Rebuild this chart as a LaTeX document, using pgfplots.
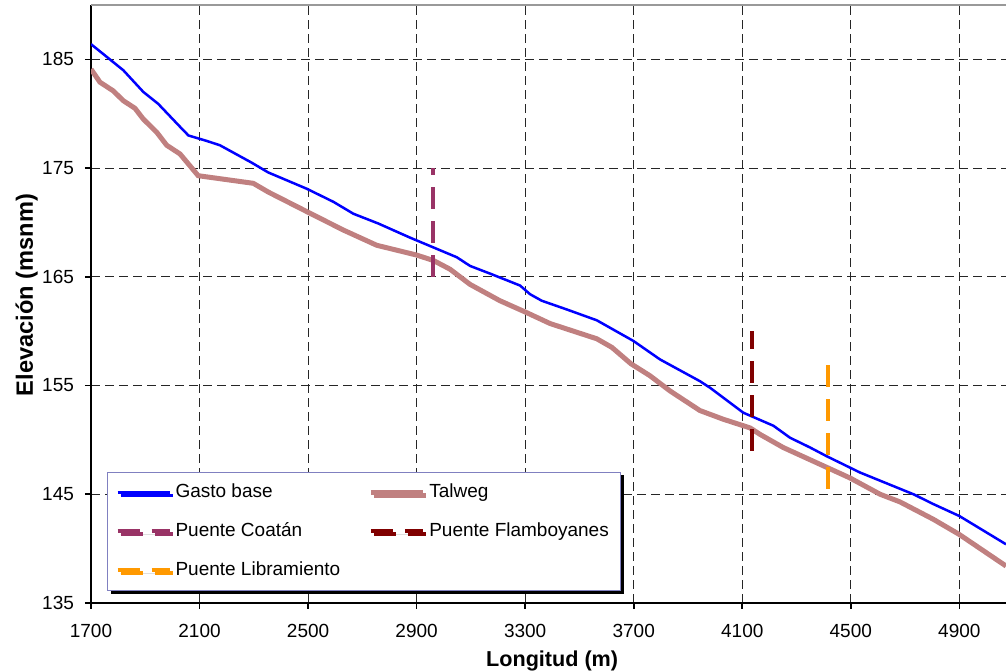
\documentclass[border=0pt]{standalone}
\usepackage{fontspec}
\setmainfont{Liberation Sans}
\usepackage{pgfplots}
\pgfplotsset{compat=1.18}
\usetikzlibrary{shadows}

\definecolor{gasto}{RGB}{0,0,255}
\definecolor{talweg}{RGB}{192,128,128}
\definecolor{coatan}{RGB}{153,51,102}
\definecolor{flamb}{RGB}{128,0,0}
\definecolor{libra}{RGB}{255,153,0}
\definecolor{legborder}{RGB}{128,128,192}

\begin{document}
\begin{tikzpicture}
\begin{axis}[
    name=ax,
    scale only axis,
    width=457.5pt, height=299pt,
    xmin=1700, xmax=5072,
    ymin=135, ymax=190,
    xtick={1700,2100,...,4900},
    ytick={135,145,...,185},
    axis x line*=bottom, axis y line*=left,
    axis line style={black, line width=1pt},
    tick align=outside,
    major tick length=3pt,
    tick style={black, line width=0.8pt},
    grid=major,
    grid style={black!85, line width=0.5pt, dash pattern=on 4.5pt off 2.5pt},
    /pgf/number format/assume math mode=true,
    /pgf/number format/1000 sep={},
    ticklabel style={font=\fontsize{9.5}{11}\selectfont},
    xticklabel style={yshift=-4pt},
    yticklabel style={xshift=-2pt},
    xlabel={\textbf{Longitud (m)}},
    ylabel={\textbf{Elevación (msnm)}},
    xlabel style={font=\fontsize{10.8}{13}\selectfont, at={([yshift=-31.6pt]axis description cs:0.504,0)}, anchor=base},
    ylabel style={font=\fontsize{11.8}{14}\selectfont, at={([xshift=-29pt]axis description cs:0,0.515)}, anchor=base},
    legend columns=2,
    legend cell align=left,
    legend image code/.code={\draw[#1] (0pt,0pt) -- (26pt,0pt);},
    legend style={
        at={(0.0175,0.02)}, anchor=south west,
        draw=legborder, line width=0.5pt, fill=white,
        drop shadow={shadow xshift=1.5pt, shadow yshift=-1.5pt, fill=black, opacity=1},
        font=\fontsize{9.5}{11}\selectfont,
        row sep=7pt,
        inner xsep=4pt, inner ysep=4pt,
        /tikz/every even column/.append style={column sep=12pt},
    },
]
\addplot[gasto, line width=1.25pt] coordinates {
    (1700,186.4) (1819,184.0) (1893,182.0) (1948,180.9) (2028,178.8)
    (2059,178.0) (2126,177.5) (2175,177.1) (2292,175.5) (2353,174.6)
    (2495,173.1) (2593,171.9) (2667,170.8) (2759,169.9) (2876,168.6)
    (2962,167.7) (3048,166.8) (3097,166.0) (3170,165.3) (3281,164.2)
    (3318,163.4) (3361,162.8) (3453,162.0) (3564,161.0) (3699,159.1)
    (3797,157.4) (3944,155.4) (3981,154.8) (4104,152.5) (4141,152.1)
    (4215,151.3) (4276,150.2) (4350,149.3) (4411,148.5) (4534,147.0)
    (4731,145.0) (4804,144.1) (4900,143.0) (5072,140.4)
};
\addlegendentry{Gasto base}
\addplot[talweg, line width=2.5pt] coordinates {
    (1700,184.1) (1733,182.9) (1782,182.1) (1819,181.2) (1862,180.5)
    (1893,179.5) (1942,178.3) (1979,177.1) (2028,176.3) (2065,175.2)
    (2095,174.3) (2298,173.6) (2353,172.8) (2495,171.0) (2630,169.3)
    (2753,167.9) (2900,167.0) (2962,166.5) (3023,165.7) (3097,164.3)
    (3207,162.8) (3306,161.7) (3392,160.7) (3564,159.3) (3620,158.5)
    (3690,157.0) (3760,155.9) (3834,154.5) (3944,152.7) (4030,151.9)
    (4129,151.1) (4166,150.5) (4251,149.3) (4374,147.9) (4497,146.5)
    (4608,145.0) (4681,144.3) (4804,142.7) (4900,141.3) (5072,138.4)
};
\addlegendentry{Talweg}
\addplot[coatan, line width=2pt, dash pattern=on 11pt off 6pt] coordinates {(2959,165) (2959,175)};
\addlegendentry{Puente Coatán}
\addplot[flamb, line width=2pt, dash pattern=on 11pt off 6pt] coordinates {(4136,149) (4136,160)};
\addlegendentry{Puente Flamboyanes}
\addplot[libra, line width=2pt, dash pattern=on 11pt off 6pt] coordinates {(4416,145.5) (4416,158)};
\addlegendentry{Puente Libramiento}
\draw[black!40, line width=0.8pt] (rel axis cs:0,1) -- (rel axis cs:1,1);
\end{axis}
\pgfresetboundingbox
\path[use as bounding box] ([xshift=-45.5pt,yshift=-34pt]ax.south west) rectangle ([yshift=2.5pt]ax.north east);
\end{tikzpicture}
\end{document}
